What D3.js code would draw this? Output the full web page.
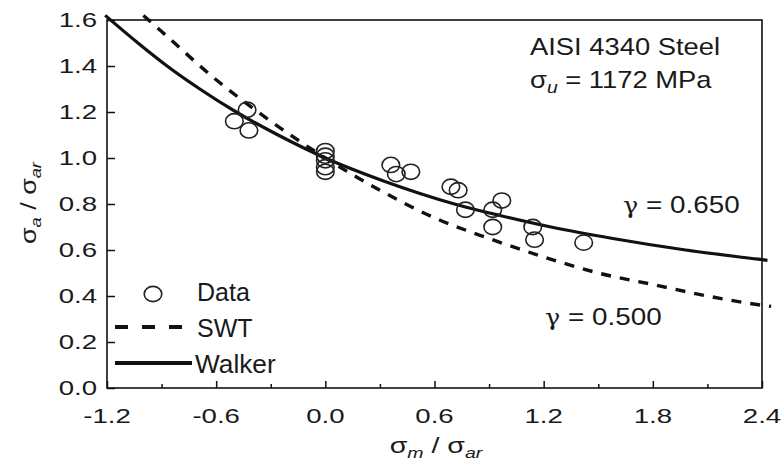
<!DOCTYPE html>
<meta charset="utf-8">
<style>
  body { margin: 0; background: #fff; }
  svg { font-family: "Liberation Sans", Arial, sans-serif; }
</style>
<body>
<div id="chart"></div>
<script src="https://d3js.org/d3.v7.min.js"></script>
<script>

// Data
var xTicks = [-1.2, -0.6, 0.0, 0.6, 1.2, 1.8, 2.4];
var xMinorTicks = [-0.9, -0.3, 0.3, 0.9, 1.5, 2.1];
var yTicks = [0.0, 0.2, 0.4, 0.6, 0.8, 1.0, 1.2, 1.4, 1.6];

var dataX = [-0.50, -0.43, -0.42, 0.0, 0.0, 0.0, 0.0, 0.0, 0.36, 0.39, 0.47,
             0.69, 0.73, 0.77, 0.92, 0.92, 0.97, 1.14, 1.15, 1.42];
var dataY = [1.16, 1.21, 1.12, 1.03, 1.01, 0.99, 0.96, 0.94, 0.97, 0.93, 0.94,
             0.875, 0.86, 0.775, 0.775, 0.70, 0.815, 0.70, 0.645, 0.632];

// Walker curve, gamma = 0.650
var walkerX = [-1.21, -1.03, -0.87, -0.69, -0.49, -0.26, 0.0, 0.32, 0.71, 0.96, 1.24, 1.58, 1.98, 2.38, 2.43];
var walkerY = [1.62, 1.50, 1.40, 1.30, 1.20, 1.10, 1.00, 0.90, 0.80, 0.75, 0.70, 0.65, 0.60, 0.56, 0.555];

// SWT curve, gamma = 0.500
var swtX = [-1.0, -0.9, -0.6, -0.3, 0.0, 0.3, 0.6, 0.9, 1.2, 1.5, 1.8, 2.1, 2.4, 2.45];
var swtY = [1.62, 1.55, 1.34, 1.16, 1.00, 0.86, 0.74, 0.65, 0.57, 0.50, 0.45, 0.40, 0.36, 0.355];

var W = 783, H = 466;
var pLeft = 107, pRight = 762, pTop = 20, pBottom = 388;
var ink = "#111";

var x = d3.scaleLinear().domain([-1.2, 2.4]).range([pLeft, pRight]);
var y = d3.scaleLinear().domain([0, 1.6]).range([pBottom, pTop]);

var svg = d3.select("#chart").append("svg")
    .attr("width", W)
    .attr("height", H);

// text that is drawn wider than the font, like the original
function stext(parent, px, py, size, sx, anchor) {
  var g = parent.append("g")
      .attr("transform", "translate(" + px + "," + py + ") scale(" + sx + ",1)");
  return g.append("text")
      .attr("text-anchor", anchor || "start")
      .style("font-size", size + "px")
      .attr("fill", "#1a1a1a");
}

// frame
svg.append("rect")
    .attr("x", pLeft).attr("y", pTop)
    .attr("width", pRight - pLeft).attr("height", pBottom - pTop)
    .attr("fill", "none")
    .attr("stroke", ink)
    .attr("stroke-width", 1.6);

// ticks (inward)
var xAxis = svg.append("g")
    .attr("transform", "translate(0," + pBottom + ")")
    .call(d3.axisBottom(x).tickValues(xTicks).tickSize(-7).tickFormat(""));
var xMinor = svg.append("g")
    .attr("transform", "translate(0," + pBottom + ")")
    .call(d3.axisBottom(x).tickValues(xMinorTicks).tickSize(-4).tickFormat(""));
var yAxis = svg.append("g")
    .attr("transform", "translate(" + pLeft + ",0)")
    .call(d3.axisLeft(y).tickValues(yTicks).tickSize(-8).tickFormat(""));

[xAxis, xMinor, yAxis].forEach(function(a) {
  a.select(".domain").remove();
  a.selectAll(".tick line").attr("stroke", ink).attr("stroke-width", 1.5);
});

// tick labels (plain hyphen for minus, as in the figure)
var fmt = function(v) { return d3.format(".1f")(v).replace("\u2212", "-"); };
xTicks.forEach(function(t) {
  stext(svg, x(t), pBottom + 35, 20, 1.38, "middle").text(fmt(t));
});
yTicks.forEach(function(t) {
  stext(svg, pLeft - 10, y(t) + 7, 20, 1.38, "end").text(fmt(t));
});

// axis titles
var xt = stext(svg, 436, 453, 22, 1.3, "middle");
xt.append("tspan").text("σ");
xt.append("tspan").attr("dy", 5).style("font-size", "15px").style("font-style", "italic").text("m");
xt.append("tspan").attr("dy", -5).text(" / σ");
xt.append("tspan").attr("dy", 5).style("font-size", "15px").style("font-style", "italic").text("ar");

var ytg = svg.append("g").attr("transform", "translate(36,203) rotate(-90)");
var yt = stext(ytg, 0, 0, 22, 1.22, "middle");
yt.append("tspan").text("σ");
yt.append("tspan").attr("dy", 5).style("font-size", "15px").style("font-style", "italic").text("a");
yt.append("tspan").attr("dy", -5).text(" / σ");
yt.append("tspan").attr("dy", 5).style("font-size", "15px").style("font-style", "italic").text("ar");

// curves
var walker = walkerX.map(function(v, i) { return [v, walkerY[i]]; });
var swt = swtX.map(function(v, i) { return [v, swtY[i]]; });

var line = d3.line()
    .x(function(d) { return x(d[0]); })
    .y(function(d) { return y(d[1]); })
    .curve(d3.curveMonotoneX);

svg.append("path")
    .datum(swt)
    .attr("d", line)
    .attr("fill", "none")
    .attr("stroke", ink)
    .attr("stroke-width", 3.4)
    .attr("stroke-dasharray", "10,9");

svg.append("path")
    .datum(walker)
    .attr("d", line)
    .attr("fill", "none")
    .attr("stroke", ink)
    .attr("stroke-width", 3.2);

// data points
svg.selectAll(".pt")
    .data(dataX.map(function(v, i) { return [v, dataY[i]]; }))
    .enter().append("ellipse")
    .attr("class", "pt")
    .attr("cx", function(d) { return x(d[0]); })
    .attr("cy", function(d) { return y(d[1]); })
    .attr("rx", 8.8)
    .attr("ry", 7.6)
    .attr("fill", "none")
    .attr("stroke", "#222")
    .attr("stroke-width", 1.6);

// annotations
stext(svg, 530, 55, 24, 1.14, "start").text("AISI 4340 Steel");
var su = stext(svg, 530, 88, 24, 1.14, "start");
su.append("tspan").text("σ");
su.append("tspan").attr("dy", 5).style("font-size", "17px").style("font-style", "italic").text("u");
su.append("tspan").attr("dy", -5).text(" = 1172 MPa");

var g1 = stext(svg, 623, 213, 24, 1.16, "start");
g1.append("tspan").style("font-family", "'DejaVu Serif', serif").style("font-size", "22px").text("γ");
g1.append("tspan").text(" = 0.650");
var g2 = stext(svg, 545, 325, 24, 1.16, "start");
g2.append("tspan").style("font-family", "'DejaVu Serif', serif").style("font-size", "22px").text("γ");
g2.append("tspan").text(" = 0.500");

// legend
svg.append("ellipse")
    .attr("cx", 153).attr("cy", 294)
    .attr("rx", 8.8).attr("ry", 7.6)
    .attr("fill", "none").attr("stroke", "#222").attr("stroke-width", 1.6);
svg.append("line")
    .attr("x1", 115).attr("x2", 182).attr("y1", 327).attr("y2", 327)
    .attr("stroke", ink).attr("stroke-width", 4)
    .attr("stroke-dasharray", "13,14");
svg.append("line")
    .attr("x1", 115).attr("x2", 192).attr("y1", 363).attr("y2", 363)
    .attr("stroke", ink).attr("stroke-width", 4);

stext(svg, 197, 301, 25, 1.0, "start").text("Data");
stext(svg, 197, 337, 25, 1.0, "start").text("SWT");
stext(svg, 195, 373, 25, 1.05, "start").text("Walker");

</script>
</body>
